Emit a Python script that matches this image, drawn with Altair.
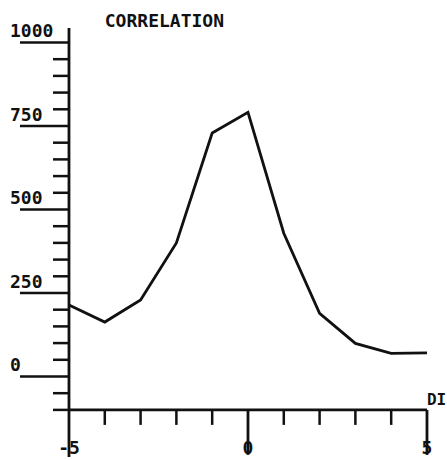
import altair as alt
import pandas as pd

# data
disp = [-5, -4, -3, -2, -1, 0, 1, 2, 3, 4, 5]
corr = [214, 163, 229, 400, 729, 791, 429, 189, 99, 69, 71]

y_minor_ticks = [-100, -50, 50, 100, 150, 200, 300, 350, 400, 450, 550, 600, 650, 700, 800, 850, 900, 950]
y_major_ticks = [0, 250, 500, 750, 1000]
y_labels = ["0", "250", "500", "750", "1000"]
x_ticks = [-4, -3, -2, -1, 1, 2, 3, 4]
x_long_ticks = [0, 5]
x_label_vals = [-5, 0, 5]
x_labels = ["-5", "0", "5"]

FONT = "DejaVu Sans Mono"
INK = "#111111"

xs = alt.Scale(domain=[-6.927, 5.559], nice=False, zero=False)
ys = alt.Scale(domain=[-250, 1127.2], nice=False, zero=False)

df = pd.DataFrame({"d": disp, "c": corr})
ymin_df = pd.DataFrame({"v": y_minor_ticks})
ymaj_df = pd.DataFrame({"v": y_major_ticks, "t": y_labels})
xt_df = pd.DataFrame({"v": x_ticks})
xl_df = pd.DataFrame({"v": x_long_ticks})
xlab_df = pd.DataFrame({"v": x_label_vals, "t": x_labels})

line = alt.Chart(df).mark_line(color=INK, strokeWidth=2.8).encode(
    x=alt.X("d:Q", scale=xs, axis=None),
    y=alt.Y("c:Q", scale=ys, axis=None),
)

yaxis = alt.Chart(pd.DataFrame({"a": [0]})).mark_rule(color=INK, strokeWidth=2.8).encode(
    x=alt.XDatum(-5, scale=xs, axis=None),
    y=alt.YDatum(1043, scale=ys, axis=None),
    y2=alt.Y2Datum(-241),
)

xaxis = alt.Chart(pd.DataFrame({"a": [0]})).mark_rule(color=INK, strokeWidth=2.8).encode(
    x=alt.XDatum(-5, scale=xs, axis=None),
    x2=alt.X2Datum(5),
    y=alt.YDatum(-100, scale=ys, axis=None),
)

yminor = alt.Chart(ymin_df).mark_rule(color=INK, strokeWidth=2.5, x2Offset=-16).encode(
    x=alt.XDatum(-5, scale=xs, axis=None),
    x2=alt.X2Datum(-5),
    y=alt.Y("v:Q", scale=ys, axis=None),
)

ymajor = alt.Chart(ymaj_df).mark_rule(color=INK, strokeWidth=2.5, x2Offset=-49).encode(
    x=alt.XDatum(-5, scale=xs, axis=None),
    x2=alt.X2Datum(-5),
    y=alt.Y("v:Q", scale=ys, axis=None),
)

ylab = alt.Chart(ymaj_df).mark_text(
    font=FONT, fontSize=18, fontWeight="bold", color=INK,
    align="left", baseline="alphabetic", dx=-59, dy=-5,
).encode(
    x=alt.XDatum(-5, scale=xs, axis=None),
    y=alt.Y("v:Q", scale=ys, axis=None),
    text="t:N",
)

xtick = alt.Chart(xt_df).mark_rule(color=INK, strokeWidth=2.5, y2Offset=15).encode(
    x=alt.X("v:Q", scale=xs, axis=None),
    y=alt.YDatum(-100, scale=ys, axis=None),
    y2=alt.Y2Datum(-100),
)

xlong = alt.Chart(xl_df).mark_rule(color=INK, strokeWidth=2.8, y2Offset=45).encode(
    x=alt.X("v:Q", scale=xs, axis=None),
    y=alt.YDatum(-100, scale=ys, axis=None),
    y2=alt.Y2Datum(-100),
)

xlab = alt.Chart(xlab_df).mark_text(
    font=FONT, fontSize=18, fontWeight="bold", color=INK,
    align="center", baseline="alphabetic", dy=44,
).encode(
    x=alt.X("v:Q", scale=xs, axis=None),
    y=alt.YDatum(-100, scale=ys, axis=None),
    text="t:N",
)

title = alt.Chart(pd.DataFrame({"t": ["CORRELATION"]})).mark_text(
    font=FONT, fontSize=18, fontWeight="bold", color=INK,
    align="left", baseline="alphabetic", dy=-15,
).encode(
    x=alt.XDatum(-4, scale=xs, axis=None),
    y=alt.YDatum(1000, scale=ys, axis=None),
    text="t:N",
)

xname = alt.Chart(pd.DataFrame({"t": ["DI"]})).mark_text(
    font=FONT, fontSize=16, fontWeight="bold", color=INK,
    align="left", baseline="alphabetic", dx=0, dy=-5,
).encode(
    x=alt.XDatum(5, scale=xs, axis=None),
    y=alt.YDatum(-100, scale=ys, axis=None),
    text="t:N",
)

chart = alt.layer(
    yaxis, xaxis, yminor, ymajor, ylab, xtick, xlong, xlab, title, xname, line
).properties(
    width=447, height=460,
    autosize=alt.AutoSizeParams(type="none"),
    padding=0,
    background="white",
).configure_view(stroke=None)

chart.save("out.html", embed_options={"renderer": "svg", "actions": False})
